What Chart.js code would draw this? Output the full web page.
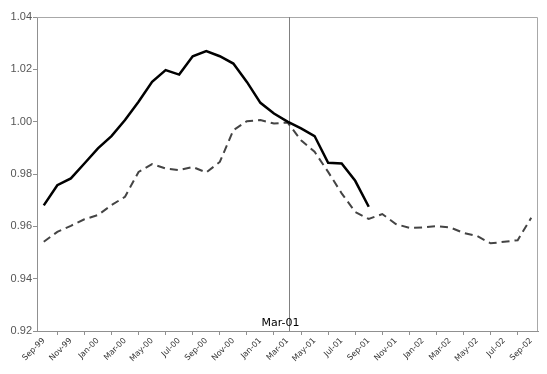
<!DOCTYPE html>
<html>
<head>
<meta charset="utf-8">
<script src="https://cdn.jsdelivr.net/npm/chart.js@4/dist/chart.umd.min.js"></script>
<style>
  body { margin: 0; background: #fff; }
  #wrap { width: 547px; height: 374px; }
</style>
</head>
<body>
<div id="wrap"><canvas id="myChart"></canvas></div>
<script>
// months Sep-99 .. Sep-02
var months = ['Sep-99', 'Oct-99', 'Nov-99', 'Dec-99', 'Jan-00', 'Feb-00', 'Mar-00', 'Apr-00', 'May-00',
    'Jun-00', 'Jul-00', 'Aug-00', 'Sep-00', 'Oct-00', 'Nov-00', 'Dec-00', 'Jan-01', 'Feb-01',
    'Mar-01', 'Apr-01', 'May-01', 'Jun-01', 'Jul-01', 'Aug-01', 'Sep-01', 'Oct-01', 'Nov-01',
    'Dec-01', 'Jan-02', 'Feb-02', 'Mar-02', 'Apr-02', 'May-02', 'Jun-02', 'Jul-02', 'Aug-02', 'Sep-02'];

var solidValues = [0.968, 0.9757, 0.9783, 0.984, 0.9898, 0.9945, 1.0006, 1.0076, 1.0152, 1.0197,
    1.018, 1.025, 1.027, 1.025, 1.0222, 1.0152, 1.0072, 1.0031, 1.000, 0.9974, 0.9945, 0.9843,
    0.984, 0.9774, 0.9675];

var dashedValues = [0.9541, 0.9579, 0.9602, 0.9627, 0.9643, 0.9681, 0.9713, 0.9808, 0.9838, 0.9821,
    0.9815, 0.9827, 0.9806, 0.9846, 0.9967, 1.0002, 1.0006, 0.9993, 0.9997, 0.9929, 0.9885, 0.9808,
    0.9726, 0.9655, 0.9628, 0.9647, 0.9609, 0.9594, 0.9596, 0.9601, 0.9596, 0.9575, 0.9563, 0.9535,
    0.9541, 0.9547, 0.9633];

var yTicks = [0.92, 0.94, 0.96, 0.98, 1.00, 1.02, 1.04];
var markerMonth = 'Mar-01';

// plot border + marker line
var extras = {
    id: 'extras',
    beforeDatasetsDraw: function(chart) {
        var ctx = chart.ctx, a = chart.chartArea;
        ctx.save();
        ctx.strokeStyle = '#a8a8a8';
        ctx.lineWidth = 1;
        ctx.beginPath();
        ctx.moveTo(a.left, a.top + 0.5);
        ctx.lineTo(a.right - 0.5, a.top + 0.5);
        ctx.lineTo(a.right - 0.5, a.bottom);
        ctx.stroke();

        var x = Math.round(chart.scales.x.getPixelForValue(months.indexOf(markerMonth))) + 1.5;
        ctx.strokeStyle = '#808080';
        ctx.beginPath();
        ctx.moveTo(x, a.top);
        ctx.lineTo(x, a.bottom);
        ctx.stroke();

        ctx.fillStyle = '#000';
        ctx.font = '11px "DejaVu Sans"';
        ctx.textAlign = 'right';
        ctx.textBaseline = 'alphabetic';
        ctx.fillText(markerMonth, x + 10, a.bottom - 5);
        ctx.restore();
    }
};

var config = {
    type: 'line',
    data: {
        labels: months,
        datasets: [{
            label: 'solid',
            data: solidValues,
            borderColor: '#000',
            borderWidth: 2.5,
            pointRadius: 0,
            tension: 0,
            fill: false
        }, {
            label: 'dashed',
            data: dashedValues,
            borderColor: '#444',
            borderWidth: 2,
            borderDash: [8, 5],
            pointRadius: 0,
            tension: 0,
            fill: false
        }]
    },
    options: {
        responsive: true,
        maintainAspectRatio: false,
        animation: false,
        layout: { padding: { top: 17, right: 9, left: 0, bottom: 0 } },
        plugins: {
            legend: { display: false },
            tooltip: { enabled: false }
        },
        scales: {
            x: {
                offset: true,
                afterFit: function(s) { s.height = 43; },
                border: { color: '#909090', width: 1 },
                grid: {
                    offset: true,
                    drawOnChartArea: false,
                    tickLength: 4,
                    color: '#909090'
                },
                ticks: {
                    autoSkip: false,
                    maxRotation: 45,
                    minRotation: 45,
                    padding: 1,
                    color: '#333',
                    font: { family: '"DejaVu Sans"', size: 8 },
                    callback: function(v, i) { return i % 2 === 0 ? months[i] : null; }
                }
            },
            y: {
                min: 0.92,
                max: 1.04,
                afterFit: function(s) { s.width = 37; },
                afterBuildTicks: function(s) {
                    s.ticks = yTicks.map(function(v) { return { value: v }; });
                },
                border: { color: '#909090', width: 1 },
                grid: {
                    drawOnChartArea: false,
                    tickLength: 4,
                    color: '#909090'
                },
                ticks: {
                    padding: 1,
                    color: '#555',
                    font: { family: '"Liberation Sans"', size: 11 },
                    callback: function(v) { return v.toFixed(2); }
                }
            }
        }
    },
    plugins: [extras]
};

var myChart = new Chart(document.getElementById('myChart'), config);
</script>
</body>
</html>
